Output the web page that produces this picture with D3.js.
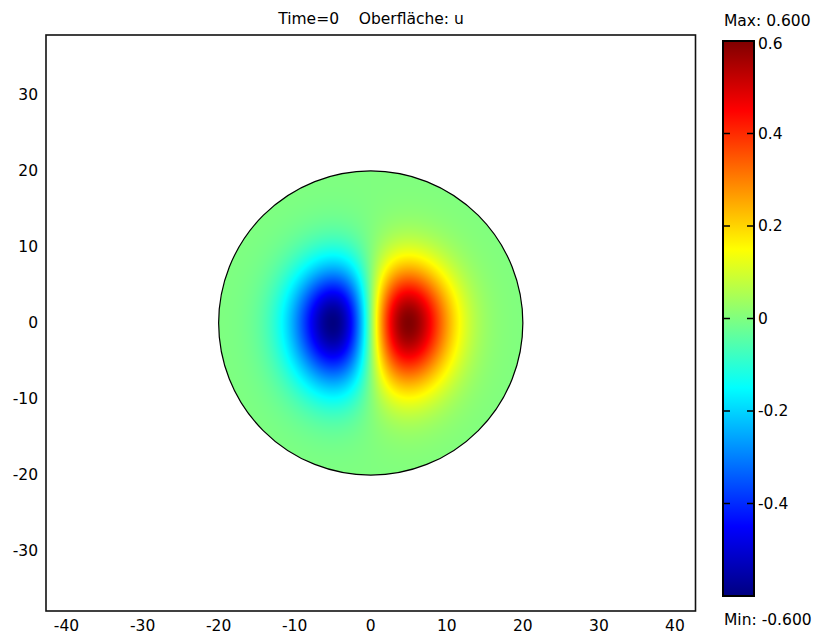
<!DOCTYPE html>
<html>
<head>
    <meta charset="utf-8">
    <title>Time=0 Oberfläche: u</title>
    <script src="https://d3js.org/d3.v7.min.js"></script>
    <style>
        body { margin: 0; background: #fff; }
        svg text { font-family: "DejaVu Sans", Verdana, sans-serif; font-size: 15.5px; fill: #000; }
    </style>
</head>
<body>
    <div id="chart"></div>

    <script>
        // Axis tick values
        const xTicks = [-40, -30, -20, -10, 0, 10, 20, 30, 40];
        const yTicks = [-30, -20, -10, 0, 10, 20, 30];
        const colorTicks = [-0.4, -0.2, 0, 0.2, 0.4, 0.6];

        // Domain: a disc of radius 20 centered at the origin
        const discCenter = [0, 0];
        const discRadius = 20;

        // Surface u at Time=0: a dipole, the two extreme values and where they sit
        const peakValues = [0.6, -0.6];
        const peakX = [5, -5];
        const lobeSpreadUp = 7.6;    // vertical reach of the lobes above y=0
        const lobeSpreadDown = 8.4;  // a little longer below y=0

        // Colour range (jet) and min/max labels
        const uRange = [-0.6, 0.6];
        const jetStops = [-0.6, -0.45, -0.15, 0.15, 0.45, 0.6];
        const jetColors = ["#000080", "#0000ff", "#00ffff", "#ffff00", "#ff0000", "#800000"];

        const width = 816;
        const height = 635;
        const plot = { left: 46, right: 695.5, top: 35, bottom: 611 };

        const x = d3.scaleLinear().domain([-42.7, 42.7]).range([plot.left, plot.right]);
        const y = d3.scaleLinear().domain([-37.9, 37.9]).range([plot.bottom, plot.top]);
        const color = d3.scaleLinear().domain(jetStops).range(jetColors).clamp(true);

        // value of u at a point, built from the peaks above
        function u(px, py) {
            const xp = peakX[0];
            const sy = py >= 0 ? lobeSpreadUp : lobeSpreadDown;
            return peakValues[0] * (px / xp) * Math.exp(0.5 - (px * px) / (2 * xp * xp)) * Math.exp(-(py * py) / (sy * sy));
        }

        const svg = d3.select("#chart")
            .append("svg")
            .attr("width", width)
            .attr("height", height);

        // Title
        svg.append("text")
            .attr("x", 371)
            .attr("y", 24)
            .attr("text-anchor", "middle")
            .attr("xml:space", "preserve")
            .text("Time=0    Oberfläche: u");

        // Surface: paint on a canvas, then place it in the svg clipped to the disc
        const cw = Math.round(plot.right - plot.left);
        const ch = Math.round(plot.bottom - plot.top);
        const canvas = document.createElement("canvas");
        canvas.width = cw;
        canvas.height = ch;
        const ctx = canvas.getContext("2d");
        const img = ctx.createImageData(cw, ch);
        for (let j = 0; j < ch; j++) {
            for (let i = 0; i < cw; i++) {
                const dx = x.invert(plot.left + i + 0.5) - discCenter[0];
                const dy = y.invert(plot.top + j + 0.5) - discCenter[1];
                if (dx * dx + dy * dy > (discRadius + 0.5) * (discRadius + 0.5)) continue;
                const c = d3.rgb(color(u(dx, dy)));
                const k = (j * cw + i) * 4;
                img.data[k] = c.r;
                img.data[k + 1] = c.g;
                img.data[k + 2] = c.b;
                img.data[k + 3] = 255;
            }
        }
        ctx.putImageData(img, 0, 0);

        svg.append("clipPath")
            .attr("id", "disc")
            .append("circle")
            .attr("cx", x(discCenter[0]))
            .attr("cy", y(discCenter[1]))
            .attr("r", x(discRadius) - x(0));

        svg.append("image")
            .attr("x", plot.left)
            .attr("y", plot.top)
            .attr("width", cw)
            .attr("height", ch)
            .attr("clip-path", "url(#disc)")
            .attr("href", canvas.toDataURL());

        svg.append("circle")
            .attr("cx", x(discCenter[0]))
            .attr("cy", y(discCenter[1]))
            .attr("r", x(discRadius) - x(0))
            .attr("fill", "none")
            .attr("stroke", "#000")
            .attr("stroke-width", 1.2);

        // Frame
        svg.append("rect")
            .attr("x", plot.left)
            .attr("y", plot.top)
            .attr("width", plot.right - plot.left)
            .attr("height", plot.bottom - plot.top)
            .attr("fill", "none")
            .attr("stroke", "#111")
            .attr("stroke-width", 1.6);

        // Axis labels (no tick marks)
        svg.append("g")
            .selectAll("text")
            .data(xTicks)
            .join("text")
            .attr("x", d => x(d))
            .attr("y", 631)
            .attr("text-anchor", "middle")
            .text(d => d);

        svg.append("g")
            .selectAll("text")
            .data(yTicks)
            .join("text")
            .attr("x", 38)
            .attr("y", d => y(d) + 5)
            .attr("text-anchor", "end")
            .text(d => d);

        // Colour bar
        const bar = { left: 723, right: 754, top: 41, bottom: 596 };
        const cy = d3.scaleLinear().domain(uRange).range([bar.bottom, bar.top]);

        const grad = svg.append("defs")
            .append("linearGradient")
            .attr("id", "jet")
            .attr("x1", 0).attr("x2", 0)
            .attr("y1", 1).attr("y2", 0);
        grad.selectAll("stop")
            .data(jetStops)
            .join("stop")
            .attr("offset", d => (d - uRange[0]) / (uRange[1] - uRange[0]))
            .attr("stop-color", (d, i) => jetColors[i]);

        svg.append("rect")
            .attr("x", bar.left)
            .attr("y", bar.top)
            .attr("width", bar.right - bar.left)
            .attr("height", bar.bottom - bar.top)
            .attr("fill", "url(#jet)")
            .attr("stroke", "#000")
            .attr("stroke-width", 2);

        const inner = colorTicks.filter(d => d > uRange[0] && d < uRange[1]);
        svg.append("g")
            .selectAll("line.l")
            .data(inner)
            .join("line")
            .attr("x1", bar.left).attr("x2", bar.left + 7)
            .attr("y1", d => cy(d)).attr("y2", d => cy(d))
            .attr("stroke", "#000").attr("stroke-width", 1.5);
        svg.append("g")
            .selectAll("line.r")
            .data(inner)
            .join("line")
            .attr("x1", bar.right - 7).attr("x2", bar.right)
            .attr("y1", d => cy(d)).attr("y2", d => cy(d))
            .attr("stroke", "#000").attr("stroke-width", 1.5);

        svg.append("g")
            .selectAll("text")
            .data(colorTicks)
            .join("text")
            .attr("x", 758)
            .attr("y", d => Math.max(cy(d), 44) + 5)
            .text(d => d);

        const fmt = v => d3.format(".3f")(v).replace("\u2212", "-");

        svg.append("text")
            .attr("x", 724)
            .attr("y", 26)
            .text("Max: " + fmt(uRange[1]));

        svg.append("text")
            .attr("x", 724)
            .attr("y", 625)
            .text("Min: " + fmt(uRange[0]));
    </script>
</body>
</html>
